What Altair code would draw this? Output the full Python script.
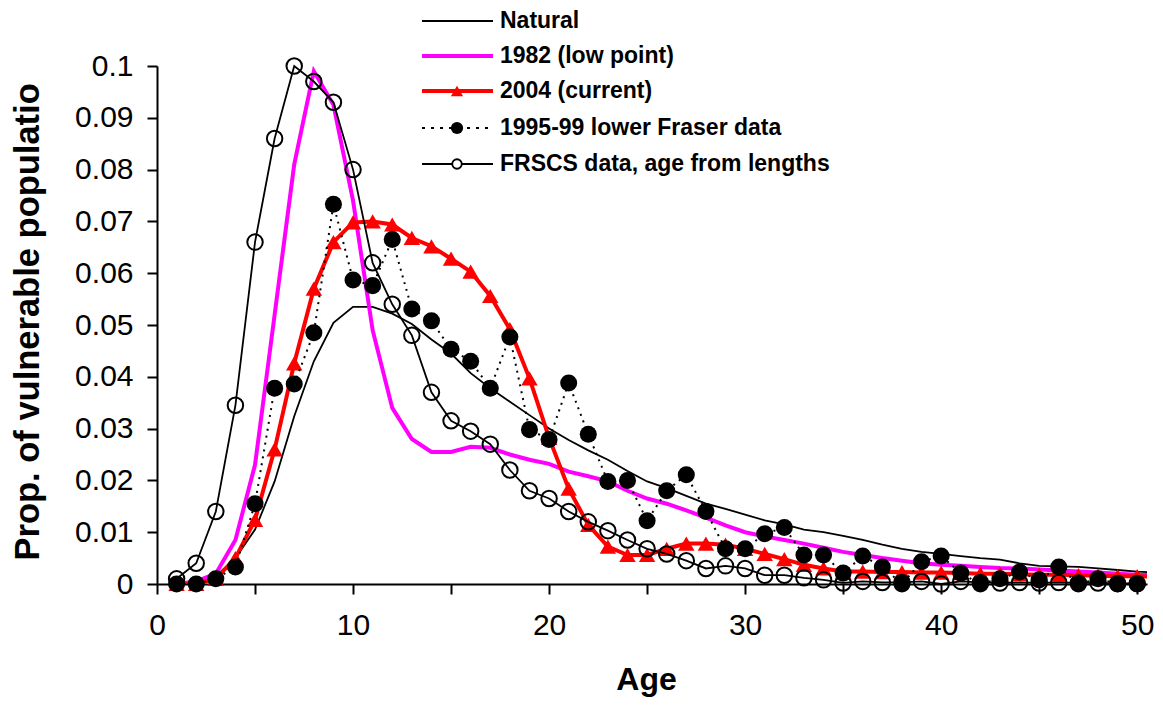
import altair as alt
import pandas as pd

ages = list(range(1, 51))
ages_line = list(range(1, 52))

natural = [0.0, 0.0003, 0.0015, 0.005, 0.0105, 0.0198, 0.0324, 0.043, 0.0504, 0.0535,
           0.0535, 0.0522, 0.0502, 0.0472, 0.0445, 0.0407, 0.0378, 0.0352, 0.0326, 0.0300,
           0.0278, 0.0258, 0.0240, 0.0218, 0.0198, 0.0185, 0.0170, 0.0155, 0.0145, 0.0134,
           0.0123, 0.0115, 0.0105, 0.0100, 0.0093, 0.0085, 0.0076, 0.0068, 0.0062, 0.0058,
           0.0054, 0.0050, 0.0047, 0.0040, 0.0035, 0.0034, 0.0033, 0.0030, 0.0027, 0.0024,
           0.0022]

low1982 = [0.0, 0.0005, 0.002, 0.0085, 0.023, 0.052, 0.081, 0.099, 0.0925, 0.074,
           0.049, 0.034, 0.028, 0.0255, 0.0255, 0.0265, 0.0263, 0.025, 0.024, 0.0232,
           0.0217, 0.0208, 0.0198, 0.018, 0.0165, 0.0155, 0.0142, 0.0128, 0.0113, 0.0100,
           0.0092, 0.0085, 0.0078, 0.0070, 0.0062, 0.0056, 0.0050, 0.0045, 0.0040, 0.0037,
           0.0035, 0.0033, 0.0031, 0.0030, 0.0028, 0.0026, 0.0024, 0.0022, 0.0020, 0.0018,
           0.0017]

cur2004 = [0.0, 0.0, 0.001, 0.005, 0.0124, 0.026, 0.0426, 0.057, 0.066, 0.0698,
           0.0700, 0.0694, 0.0668, 0.0652, 0.0628, 0.0603, 0.0556, 0.0492, 0.0397, 0.0282,
           0.0184, 0.0114, 0.0072, 0.0056, 0.0056, 0.0068, 0.0078, 0.0078, 0.0076, 0.0068,
           0.0058, 0.0048, 0.0037, 0.0030, 0.0024, 0.0024, 0.0023, 0.0023, 0.0022, 0.0022,
           0.0021, 0.0020, 0.0020, 0.0019, 0.0018, 0.0018, 0.0017, 0.0016, 0.0015, 0.0015,
           0.0014]

fraser = [0.0, 0.0, 0.001, 0.0033, 0.0155, 0.0378, 0.0386, 0.0485, 0.0733, 0.0587,
          0.0576, 0.0665, 0.0531, 0.0508, 0.0453, 0.043, 0.0378, 0.0477, 0.0298, 0.0279,
          0.0388, 0.0289, 0.0198, 0.020, 0.0122, 0.018, 0.0211, 0.014, 0.0068, 0.0068,
          0.0097, 0.0109, 0.0056, 0.0056, 0.0021, 0.0054, 0.0033, 0.0, 0.0043, 0.0054,
          0.0021, 0.0, 0.001, 0.0023, 0.0008, 0.0033, 0.0, 0.001, 0.0, 0.0]

frscs = [0.001, 0.004, 0.014, 0.0345, 0.066, 0.086, 0.100, 0.097, 0.093, 0.080,
         0.062, 0.054, 0.048, 0.037, 0.0315, 0.0295, 0.027, 0.022, 0.018, 0.0165,
         0.014, 0.012, 0.0103, 0.0085, 0.0068, 0.0058, 0.0045, 0.003, 0.0035, 0.003,
         0.0017, 0.0017, 0.0012, 0.0008, 0.0002, 0.0005, 0.0003, 0.0003, 0.0005, 0.0,
         0.0005, 0.0003, 0.0002, 0.0003, 0.0002, 0.0003, 0.0002, 0.0002, 0.0001, 0.0001]

legend_labels = ["Natural", "1982 (low point)", "2004 (current)",
                 "1995-99 lower Fraser data", "FRSCS data, age from lengths"]

x_ticks = list(range(0, 51, 5))
y_ticks = [0, 0.01, 0.02, 0.03, 0.04, 0.05, 0.06, 0.07, 0.08, 0.09, 0.1]

FONT = "Liberation Sans"

df_nat = pd.DataFrame({"age": ages_line, "v": natural})
df_82 = pd.DataFrame({"age": ages_line, "v": low1982})
df_04l = pd.DataFrame({"age": ages_line, "v": cur2004})
df_04p = pd.DataFrame({"age": ages, "v": cur2004[:50]})
df_fr = pd.DataFrame({"age": ages, "v": fraser})
df_fs = pd.DataFrame({"age": ages, "v": frscs})

xs = alt.Scale(domain=[0, 50.5], nice=False, zero=False)
ys = alt.Scale(domain=[0, 0.1], nice=False)

common_axis = dict(grid=False, domainColor="black", domainWidth=2, tickColor="black",
                   tickWidth=2, tickSize=10, labelFont=FONT, labelFontSize=30,
                   labelColor="black", titleFont=FONT, titleColor="black",
                   labelOverlap=False, labelFlush=False)

X = alt.X("age:Q", scale=xs, axis=alt.Axis(
    values=x_ticks, title="Age",
    labelExpr="datum.value % 10 === 0 ? datum.label : ''",
    labelPadding=16,
    titleFontSize=32, titleFontWeight="bold", titleX=489, titleY=105,
    titleBaseline="alphabetic", titleAlign="center", **common_axis))
Y = alt.Y("v:Q", scale=ys, axis=alt.Axis(
    values=y_ticks, format=".2~f", title="Prop. of vulnerable populatio",
    labelPadding=14,
    titleFontSize=34.5, titleFontWeight="bold", titleX=-119, titleY=494,
    titleAngle=-90, titleAlign="left", titleBaseline="alphabetic", **common_axis))

nat = alt.Chart(df_nat).mark_line(color="black", strokeWidth=1.8, clip=True).encode(x=X, y=Y)
l82 = alt.Chart(df_82).mark_line(color="#FF00FF", strokeWidth=4, clip=True).encode(x=X, y=Y)
l04 = alt.Chart(df_04l).mark_line(color="#FF0000", strokeWidth=4, clip=True).encode(x=X, y=Y)
p04 = alt.Chart(df_04p).mark_point(shape="triangle-up", filled=True, color="#FF0000",
                                    size=270, opacity=1).encode(x=X, y=Y)
lfs = alt.Chart(df_fs).mark_line(color="black", strokeWidth=1.8).encode(x=X, y=Y)
pfs = alt.Chart(df_fs).mark_point(shape="circle", filled=False, color="black",
                                   size=240, strokeWidth=2, opacity=1).encode(x=X, y=Y)
lfr = alt.Chart(df_fr).mark_line(color="black", strokeWidth=2, strokeDash=[2, 5]).encode(x=X, y=Y)
pfr = alt.Chart(df_fr).mark_point(shape="circle", filled=True, color="black",
                                   size=290, opacity=1).encode(x=X, y=Y)

# manual legend
leg_rows = [-45, -10, 25, 62, 98]
lx1, lx2, lmx, ltx = 265, 336, 300, 343
leg_layers = []
line_styles = [
    dict(color="black", strokeWidth=2),
    dict(color="#FF00FF", strokeWidth=4),
    dict(color="#FF0000", strokeWidth=4),
    dict(color="black", strokeWidth=2, strokeDash=[3, 6]),
    dict(color="black", strokeWidth=2),
]
for i, lab in enumerate(legend_labels):
    one = pd.DataFrame({"t": [lab]})
    leg_layers.append(alt.Chart(one).mark_rule(**line_styles[i]).encode(
        x=alt.value(lx1), x2=alt.value(lx2), y=alt.value(leg_rows[i])))
    leg_layers.append(alt.Chart(one).mark_text(
        align="left", baseline="middle", font=FONT, fontSize=23, fontWeight="bold",
        color="black").encode(x=alt.value(ltx), y=alt.value(leg_rows[i]), text="t:N"))

one = pd.DataFrame({"t": ["m"]})
leg_layers.append(alt.Chart(one).mark_point(shape="triangle-up", filled=True, color="#FF0000",
                                            size=150, opacity=1).encode(
    x=alt.value(lmx), y=alt.value(leg_rows[2])))
leg_layers.append(alt.Chart(one).mark_point(shape="circle", filled=True, color="black",
                                            size=150, opacity=1).encode(
    x=alt.value(lmx), y=alt.value(leg_rows[3])))
leg_layers.append(alt.Chart(one).mark_point(shape="circle", filled=True, fill="white",
                                            stroke="black", strokeWidth=1.8,
                                            size=90, opacity=1).encode(
    x=alt.value(lmx), y=alt.value(leg_rows[4])))

chart = alt.layer(nat, l82, l04, p04, lfs, pfs, lfr, pfr, *leg_layers).properties(
    width=990, height=518,
    autosize=alt.AutoSizeParams(type="none"),
    padding={"left": 149, "top": 58, "right": 8, "bottom": 115},
    background="white",
).configure_view(stroke=None)

chart.save("out.html", embed_options={"renderer": "svg", "actions": False})
